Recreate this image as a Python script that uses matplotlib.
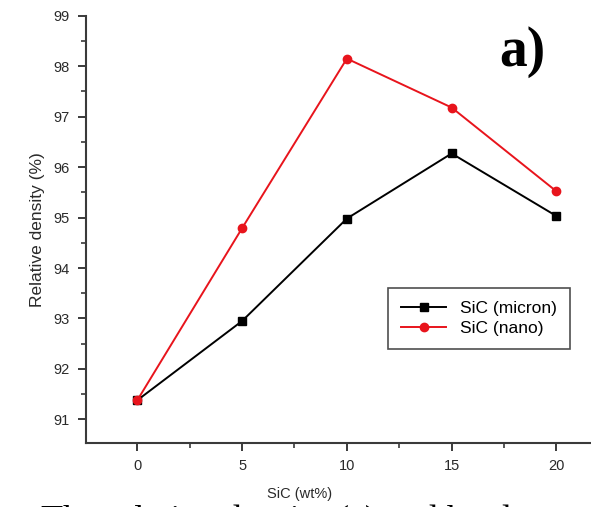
import matplotlib
matplotlib.use('Agg')
import matplotlib.pyplot as plt
from matplotlib.ticker import MultipleLocator

# data
sic_wt = [0, 5, 10, 15, 20]
micron = [91.38, 92.95, 94.98, 96.27, 95.03]
nano = [91.38, 94.79, 98.15, 97.18, 95.52]

plt.rcParams['font.family'] = ['Liberation Sans', 'DejaVu Sans']

fig = plt.figure(figsize=(5.91, 5.07), dpi=100)
ax = fig.add_axes([0.1455, 0.127, 0.8545, 0.842])

ax.plot(sic_wt, micron, '-s', color='black', lw=1.4, ms=6, label='SiC (micron)')
ax.plot(sic_wt, nano, '-o', color='#e8141c', lw=1.4, ms=6, label='SiC (nano)')

ax.set_xlim(-2.45, 21.65)
ax.set_ylim(90.54, 99)
ax.xaxis.set_major_locator(MultipleLocator(5))
ax.xaxis.set_minor_locator(MultipleLocator(2.5))
ax.yaxis.set_major_locator(MultipleLocator(1))
ax.yaxis.set_minor_locator(MultipleLocator(0.5))

for side in ('top', 'right'):
    ax.spines[side].set_visible(False)
for side in ('left', 'bottom'):
    ax.spines[side].set_linewidth(1.5)
    ax.spines[side].set_color('#3a3a3a')

ax.tick_params(which='major', direction='out', length=6, width=1.4,
               color='#3a3a3a', labelsize=10.5, labelcolor='#2a2a2a', pad=6)
ax.tick_params(which='minor', direction='out', length=3.5, width=1.2,
               color='#3a3a3a')

ax.set_ylabel('Relative density (%)', fontsize=12.5, color='#2a2a2a', labelpad=6)
fig.text(300 / 591, 1 - 494 / 507, 'SiC (wt%)', fontsize=10.5, color='#2a2a2a',
         ha='center', va='center')

leg = ax.legend(loc='upper left', bbox_to_anchor=(0.598, 0.362), borderaxespad=0,
                fontsize=12.5, fancybox=False, edgecolor='#222222',
                handlelength=2.6, borderpad=0.75, labelspacing=0.25)
leg.get_frame().set_linewidth(1.2)

fig.text(522 / 591, 1 - 52 / 507, 'a)', fontsize=40, fontweight='bold',
         family='Liberation Serif', ha='center', va='center')

# caption line cut off by the bottom edge
fig.text(0.52, 1 - 521 / 507, 'The relative density (a) and hardness', fontsize=26,
         family='Liberation Serif', ha='center', va='center')

fig.savefig('out.png', dpi=100)
